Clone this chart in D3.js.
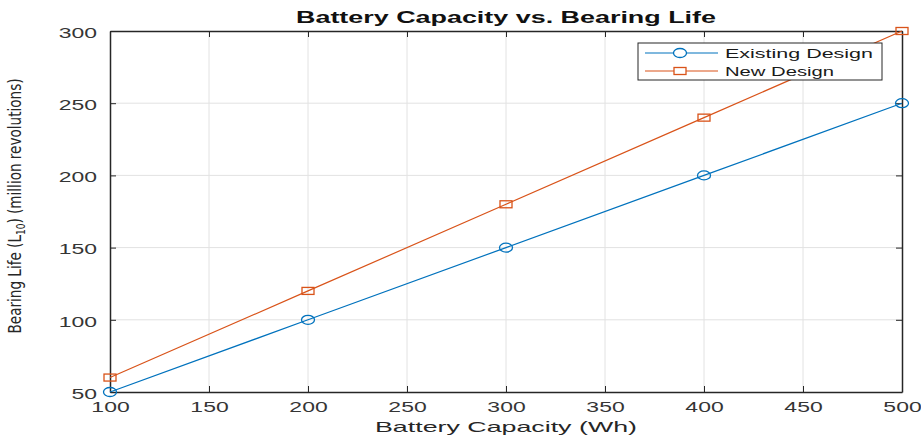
<!DOCTYPE html>
<html>
<head>
<meta charset="utf-8">
<script src="https://cdn.jsdelivr.net/npm/d3@7"></script>
<style>
	body { margin: 0; background: #fff; }
	text { font-family: "Liberation Sans", Arial, sans-serif; }
</style>
</head>
<body>
<div class="c-svg"></div>
<script>
//DATA
//-------------------------------------------------------------------------
const capacity = [100, 200, 300, 400, 500];
const existingDesign = [50, 100, 150, 200, 250];
const newDesign = [60, 120, 180, 240, 300];
const xTicks = [100, 150, 200, 250, 300, 350, 400, 450, 500];
const yTicks = [50, 100, 150, 200, 250, 300];
const seriesNames = ["Existing Design", "New Design"];

//opts for svg
const opts = {
	width: 921,
	height: 436,
	margin: { top: 31, right: 19, bottom: 44, left: 110 }
};
const inner = {
	width: opts.width - opts.margin.left - opts.margin.right,
	height: opts.height - opts.margin.top - opts.margin.bottom
};

//the picture is stretched sideways, text too
const stretch = 1.53;

const svg = d3.select(".c-svg")
	.append("svg")
	.attr("width", opts.width)
	.attr("height", opts.height);

const g = svg.append("g")
	.attr("transform", `translate(${opts.margin.left} ${opts.margin.top})`);

const x = d3.scaleLinear().domain([100, 500]).range([0, inner.width]);
const y = d3.scaleLinear().domain([50, 300]).range([inner.height, 0]);

//GRID
//-------------------------------------------------------------------------
g.append("g").selectAll("line").data(xTicks.slice(1, -1)).join("line")
	.attr("x1", d => x(d)).attr("x2", d => x(d))
	.attr("y1", 0).attr("y2", inner.height)
	.attr("stroke", "#e2e2e2").attr("stroke-width", 1);

g.append("g").selectAll("line").data(yTicks.slice(1, -1)).join("line")
	.attr("y1", d => y(d)).attr("y2", d => y(d))
	.attr("x1", 0).attr("x2", inner.width)
	.attr("stroke", "#e2e2e2").attr("stroke-width", 1);

//AXIS
//-------------------------------------------------------------------------
const axisColor = "#262626";
const xAxis = d3.axisBottom(x).tickValues(xTicks).tickSizeInner(-6).tickSizeOuter(0).tickPadding(10);
const yAxis = d3.axisLeft(y).tickValues(yTicks).tickSizeInner(-6).tickSizeOuter(0).tickPadding(13);

const gx = g.append("g").attr("transform", `translate(0 ${inner.height})`).call(xAxis);
const gy = g.append("g").call(yAxis);
g.append("g").call(d3.axisTop(x).tickValues(xTicks).tickSizeInner(-6).tickSizeOuter(0).tickFormat(""));
g.append("g").attr("transform", `translate(${inner.width} 0)`)
	.call(d3.axisRight(y).tickValues(yTicks).tickSizeInner(-6).tickSizeOuter(0).tickFormat(""));

g.selectAll(".domain").attr("stroke", axisColor).attr("stroke-width", 1.5);
g.selectAll(".tick line").attr("stroke", axisColor);
g.selectAll(".tick text")
	.attr("fill", "#353535")
	.style("font-size", "15px")
	.style("font-family", "'Liberation Sans', Arial, sans-serif");
gy.selectAll(".tick text").attr("dy", "0.42em");
gx.selectAll(".tick text").attr("dy", "0.68em");

//widen tick labels like the reference
g.selectAll(".tick text").each(function(){
	const len = this.getComputedTextLength();
	if (len > 0) {
		d3.select(this).attr("textLength", len * stretch).attr("lengthAdjust", "spacingAndGlyphs");
	}
});

//LINES
//-------------------------------------------------------------------------
const colors = ["#0072BD", "#D95319"];
const series = [existingDesign, newDesign];
const line = d3.line().x((d, i) => x(capacity[i])).y(d => y(d));

series.forEach((vals, k) => {
	g.append("path").datum(vals)
		.attr("d", line)
		.attr("fill", "none")
		.attr("stroke", colors[k])
		.attr("stroke-width", 1.2);
});

// markers (wide, as in the reference)
g.selectAll(".m0").data(existingDesign).join("ellipse")
	.attr("cx", (d, i) => x(capacity[i])).attr("cy", d => y(d))
	.attr("rx", 6.5).attr("ry", 4.5)
	.attr("fill", "none").attr("stroke", colors[0]).attr("stroke-width", 1.3);

g.selectAll(".m1").data(newDesign).join("rect")
	.attr("x", (d, i) => x(capacity[i]) - 6).attr("y", d => y(d) - 3.5)
	.attr("width", 12).attr("height", 7)
	.attr("fill", "none").attr("stroke", colors[1]).attr("stroke-width", 1.3);

//LEGEND
//-------------------------------------------------------------------------
const legend = svg.append("g").attr("transform", "translate(638 43)");
legend.append("rect")
	.attr("width", 244).attr("height", 37)
	.attr("fill", "#fff").attr("stroke", axisColor).attr("stroke-width", 1);

const legendWidths = [148, 109];
seriesNames.forEach((name, k) => {
	const ly = 10 + k * 18;
	legend.append("line")
		.attr("x1", 7).attr("x2", 80).attr("y1", ly).attr("y2", ly)
		.attr("stroke", colors[k]).attr("stroke-width", 1.2);
	if (k === 0) {
		legend.append("ellipse").attr("cx", 42).attr("cy", ly).attr("rx", 6.5).attr("ry", 4.5)
			.attr("fill", "#fff").attr("stroke", colors[k]).attr("stroke-width", 1.3);
	} else {
		legend.append("rect").attr("x", 36).attr("y", ly - 3.5).attr("width", 12).attr("height", 7)
			.attr("fill", "#fff").attr("stroke", colors[k]).attr("stroke-width", 1.3);
	}
	legend.append("text")
		.attr("x", 87).attr("y", ly + 5)
		.attr("fill", "#1a1a1a")
		.style("font-size", "13.5px")
		.attr("textLength", legendWidths[k])
		.attr("lengthAdjust", "spacingAndGlyphs")
		.text(name);
});

//TITLES
//-------------------------------------------------------------------------
svg.append("text")
	.attr("x", opts.margin.left + inner.width / 2).attr("y", 23)
	.attr("text-anchor", "middle")
	.style("font-size", "16px").style("font-weight", "bold")
	.attr("fill", "#111")
	.attr("textLength", 420)
	.attr("lengthAdjust", "spacingAndGlyphs")
	.text("Battery Capacity vs. Bearing Life");

svg.append("text")
	.attr("x", opts.margin.left + inner.width / 2).attr("y", 432)
	.attr("text-anchor", "middle")
	.style("font-size", "15px")
	.attr("fill", "#262626")
	.attr("textLength", 262)
	.attr("lengthAdjust", "spacingAndGlyphs")
	.text("Battery Capacity (Wh)");

const yl = svg.append("text")
	.attr("transform", "translate(21 206) rotate(-90)")
	.attr("text-anchor", "middle")
	.style("font-size", "18px")
	.style("font-family", "'Liberation Sans Narrow', 'DejaVu Sans Condensed', sans-serif")
	.attr("fill", "#262626")
	.attr("textLength", 255)
	.attr("lengthAdjust", "spacingAndGlyphs");
yl.append("tspan").text("Bearing Life (L");
yl.append("tspan").attr("dy", 4).style("font-size", "12px").text("10");
yl.append("tspan").attr("dy", -4).text(") (million revolutions)");
</script>
</body>
</html>
